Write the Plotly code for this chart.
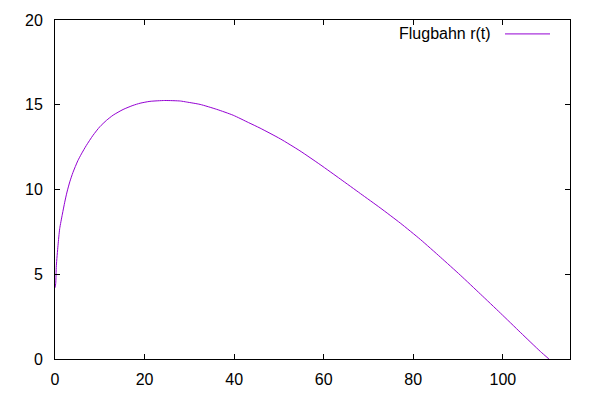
import plotly.graph_objects as go

x_vals = [0.0, 0.16, 0.3, 0.67, 1.05, 1.65, 2.17, 2.68, 3.3, 4.0, 5.1, 5.9, 7.0, 8.5,
          10.0, 11.5, 13.0, 15.2, 17.4, 19.0, 21.2, 24.5, 28.0, 29.4, 32.4, 36.1, 39.8,
          43.2, 45.8, 50.3, 54.7, 59.2, 63.7, 68.2, 72.6, 77.1, 81.6, 86.1, 90.5, 95.0,
          99.5, 104.0, 108.4, 110.3]
y_vals = [4.2, 4.46, 5.5, 6.7, 7.69, 8.55, 9.25, 9.85, 10.45, 11.0, 11.7, 12.1, 12.6, 13.2,
          13.7, 14.08, 14.39, 14.72, 14.96, 15.09, 15.2, 15.25, 15.22, 15.16, 15.02, 14.73,
          14.38, 13.95, 13.62, 12.99, 12.28, 11.47, 10.62, 9.76, 8.92, 8.02, 7.05, 6.0,
          4.95, 3.83, 2.70, 1.55, 0.44, 0.0]
series_name = "Flugbahn r(t)"
x_ticks = [0, 20, 40, 60, 80, 100]
y_ticks = [0, 5, 10, 15, 20]

line_color = "#9400D3"
font = dict(family="Liberation Sans, Arial, sans-serif", size=16, color="black")

fig = go.Figure()
fig.add_trace(go.Scatter(x=x_vals, y=y_vals, mode="lines",
                         line=dict(color=line_color, width=1, shape="spline", smoothing=0.6),
                         name=series_name, showlegend=False))

axis_common = dict(showgrid=False, zeroline=False, showline=True, linecolor="black",
                   linewidth=1, mirror="ticks", ticks="inside", ticklen=5,
                   tickcolor="black", tickwidth=1, tickfont=font)

fig.update_layout(
    width=600, height=400,
    margin=dict(l=55, r=30, t=20, b=39),
    paper_bgcolor="white", plot_bgcolor="white",
    xaxis=dict(range=[0, 115], tickvals=x_ticks, ticktext=[str(v) for v in x_ticks],
               ticklabelstandoff=6, **axis_common),
    yaxis=dict(range=[0, 20], tickvals=y_ticks, ticktext=[str(v) for v in y_ticks],
               ticklabelstandoff=8, **axis_common),
    showlegend=False,
)

# gnuplot-style key: text then sample line to its right
fig.add_annotation(xref="paper", yref="paper", x=(492.7 - 55) / 515, y=1 - (33.5 - 20) / 341,
                   text=series_name, showarrow=False, xanchor="right", yanchor="middle",
                   font=font)
fig.add_shape(type="line", xref="paper", yref="paper",
              x0=(505 - 55) / 515, x1=(550 - 55) / 515,
              y0=1 - (34 - 20) / 341, y1=1 - (34 - 20) / 341,
              line=dict(color=line_color, width=1))

fig.write_html("out.html")
